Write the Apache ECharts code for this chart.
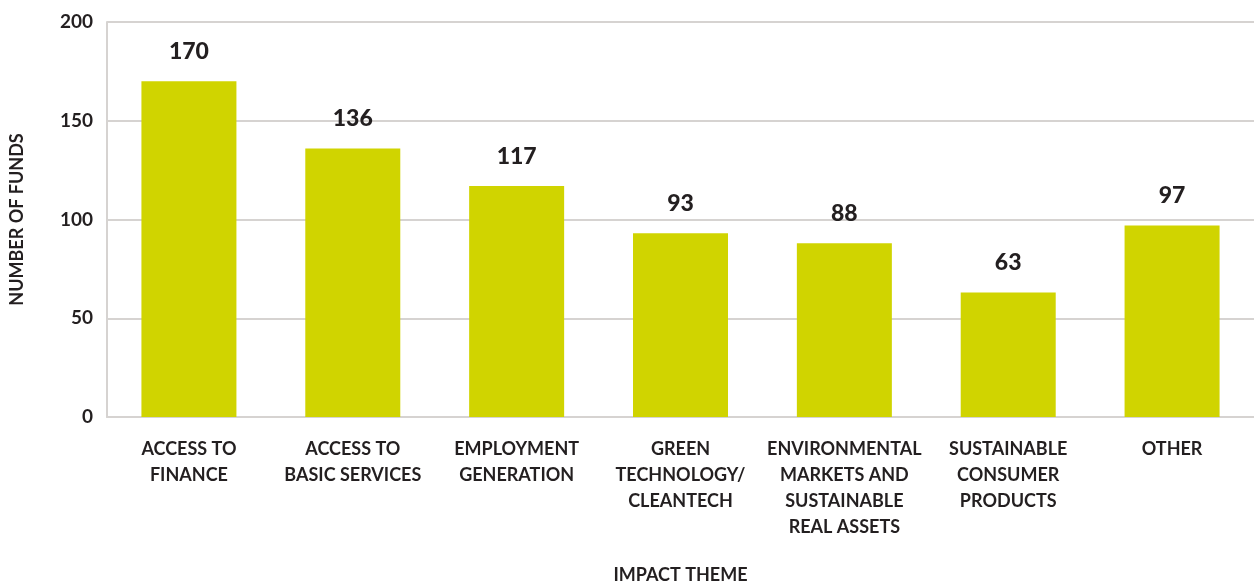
<!DOCTYPE html>
<html>
<head>
<meta charset="utf-8">
<script src="https://cdn.jsdelivr.net/npm/echarts@6/dist/echarts.min.js"></script>
<style>
  html, body { margin: 0; padding: 0; background: #fff; }
  #main { width: 1254px; height: 583px; }
</style>
</head>
<body>
<div id="main"></div>
<script>
// Datos del grafico
var themes = ['ACCESS TO\nFINANCE', 'ACCESS TO\nBASIC SERVICES', 'EMPLOYMENT\nGENERATION',
  'GREEN\nTECHNOLOGY/\nCLEANTECH', 'ENVIRONMENTAL\nMARKETS AND\nSUSTAINABLE\nREAL ASSETS',
  'SUSTAINABLE\nCONSUMER\nPRODUCTS', 'OTHER'];
var funds = [170, 136, 117, 93, 88, 63, 97];
var yTicks = [0, 50, 100, 150, 200];

var grafico = echarts.init(document.getElementById('main'));
var lineColor = '#d6d3d1';
var textColor = '#231f20';

var option = {
  animation: false,
  textStyle: { fontFamily: 'Lato' },
  grid: { left: 107, right: 0, top: 22, bottom: 166, outerBoundsMode: 'none', containLabel: false },
  xAxis: {
    type: 'category',
    data: themes,
    name: 'IMPACT THEME',
    nameLocation: 'middle',
    nameGap: 149,
    nameTextStyle: { color: textColor, fontSize: 18, fontWeight: 'bold', fontFamily: 'Lato' },
    axisLine: { lineStyle: { color: lineColor, width: 2 } },
    axisTick: { show: false },
    axisLabel: {
      interval: 0,
      color: textColor,
      fontSize: 18,
      fontWeight: 'bold',
      lineHeight: 26,
      margin: 19,
      fontFamily: 'Lato'
    }
  },
  yAxis: {
    type: 'value',
    min: yTicks[0],
    max: yTicks[yTicks.length - 1],
    interval: 50,
    name: 'NUMBER OF FUNDS',
    nameLocation: 'middle',
    nameRotate: 90,
    nameGap: 81,
    nameTextStyle: { color: textColor, fontSize: 18, fontWeight: 'bold', fontFamily: 'Lato' },
    axisLine: { show: true, lineStyle: { color: lineColor, width: 2 } },
    axisTick: { show: false },
    splitLine: { lineStyle: { color: lineColor, width: 2 } },
    axisLabel: { color: textColor, fontSize: 19, fontWeight: 'bold', margin: 14, fontFamily: 'Lato' }
  },
  series: [{
    type: 'bar',
    data: funds,
    barWidth: 95,
    itemStyle: { color: '#d0d400' },
    label: {
      show: true,
      position: 'top',
      distance: 18,
      color: textColor,
      fontSize: 23,
      fontWeight: 900,
      fontFamily: 'Lato'
    }
  }]
};

grafico.setOption(option);
</script>
</body>
</html>
